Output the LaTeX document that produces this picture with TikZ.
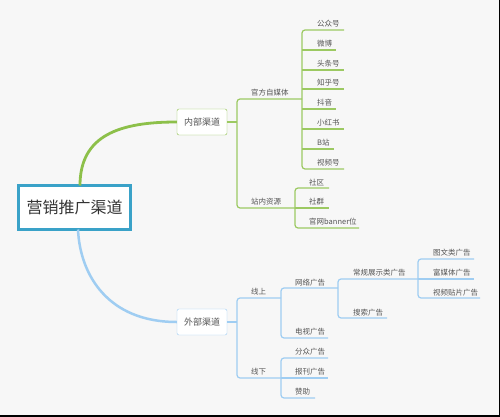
\documentclass[tikz,border=0pt]{standalone}
\usepackage{fontspec}
\setmainfont{Noto Sans CJK SC}
\definecolor{bg}{HTML}{F7F7F7}
\definecolor{gr}{HTML}{8DC04A}
\definecolor{grl}{HTML}{9CC962}
\definecolor{bl}{HTML}{9FCDF2}
\definecolor{rootc}{HTML}{3AA2C8}
\definecolor{txt}{HTML}{555555}
\tikzset{
  leaf/.style={anchor=west,inner sep=0pt,font=\fontsize{7.5}{8}\selectfont,text=txt},
  mid/.style={draw,fill=white,rounded corners=2pt,minimum width=50pt,minimum height=26pt,inner sep=0pt,font=\fontsize{9}{10}\selectfont,text=txt},
  gline/.style={draw=grl,line width=1.2pt,rounded corners=3pt},
  bline/.style={draw=bl,line width=1.2pt,rounded corners=3pt},
}
\begin{document}
\begin{tikzpicture}[x=1pt,y=-1pt]
\useasboundingbox (0,0) rectangle (500,417);
\fill[bg] (0,0) rectangle (500,417);
\fill[black] (498.7,0) rectangle (500,417);
\fill[black] (0,414.7) rectangle (500,417);

% root
\node[draw=rootc,line width=3pt,fill=white,minimum width=112pt,minimum height=44pt,inner sep=0pt,font=\fontsize{16}{18}\selectfont,text=black!80] (root) at (74.5,207.5) {营销推广渠道};

% main nodes
\node[mid,draw=gr] (nei) at (202,122) {内部渠道};
\node[mid,draw=bl] (wai) at (202,322) {外部渠道};

\draw[gr,line width=2.8pt] (80,185.5) .. controls (80,135) and (120,122) .. (nei.west);
\draw[bl,line width=2.5pt] (78,229.5) .. controls (80,275) and (108,322) .. (wai.west);

% ---------- internal ----------
\coordinate (b1) at (237,122);
\draw[gline] (nei.east) -- (b1);
\node[leaf] (gf) at (251,93) {官方自媒体};
\node[leaf] (zn) at (251,202) {站内资源};
\draw[gline] (302,99) -- (237,99) -- (237,208) -- (295,208);

% 官方自媒体 children
\node[leaf] (c1) at (317,23.5) {公众号};
\node[leaf] (c2) at (317,43.5) {微博};
\node[leaf] (c3) at (317,63.5) {头条号};
\node[leaf] (c4) at (317,83) {知乎号};
\node[leaf] (c5) at (317,103) {抖音};
\node[leaf] (c6) at (317,123) {小红书};
\node[leaf] (c7) at (317,143) {B站};
\node[leaf] (c8) at (317,163) {视频号};
\draw[gline] (344,30) -- (302,30) -- (302,169) -- (344,169);
\draw[gline] (302,50) -- (336,50);
\draw[gline] (302,70) -- (344,70);
\draw[gline] (302,89) -- (344,89);
\draw[gline] (302,109) -- (336,109);
\draw[gline] (302,129) -- (344,129);
\draw[gline] (302,149) -- (334,149);

% 站内资源 children
\node[leaf] (s1) at (309,182.5) {社区};
\node[leaf] (s2) at (309,202) {社群};
\node[leaf] (s3) at (309,222) {官网banner位};
\draw[gline] (329,188) -- (295,188) -- (295,228) -- (359,228);
\draw[gline] (295,208) -- (329,208);

% ---------- external ----------
\coordinate (b2) at (237,322);
\draw[bline] (wai.east) -- (b2);
\node[leaf] (xs) at (251,292) {线上};
\node[leaf] (xx) at (251,372) {线下};
\draw[bline] (281,298) -- (237,298) -- (237,378) -- (281,378);

% 线上 children
\node[leaf] (w1) at (295,282.5) {网络广告};
\node[leaf] (w2) at (295,332) {电视广告};
\draw[bline] (338,288) -- (281,288) -- (281,338) -- (328,338);

% 网络广告 children
\node[leaf] (n1) at (353,272.5) {常规展示类广告};
\node[leaf] (n2) at (353,312.5) {搜索广告};
\draw[bline] (418,279) -- (338,279) -- (338,318) -- (387,318);

% 常规展示类广告 children
\node[leaf] (g1) at (433,253) {图文类广告};
\node[leaf] (g2) at (433,273) {富媒体广告};
\node[leaf] (g3) at (433,292.5) {视频贴片广告};
\draw[bline] (474,259) -- (418,259) -- (418,298) -- (480,298);
\draw[bline] (418,279) -- (474,279);

% 线下 children
\node[leaf] (d1) at (295,352) {分众广告};
\node[leaf] (d2) at (295,372) {报刊广告};
\node[leaf] (d3) at (295,392) {赞助};
\draw[bline] (328,358) -- (281,358) -- (281,398) -- (315,398);
\draw[bline] (281,378) -- (328,378);
\end{tikzpicture}
\end{document}
